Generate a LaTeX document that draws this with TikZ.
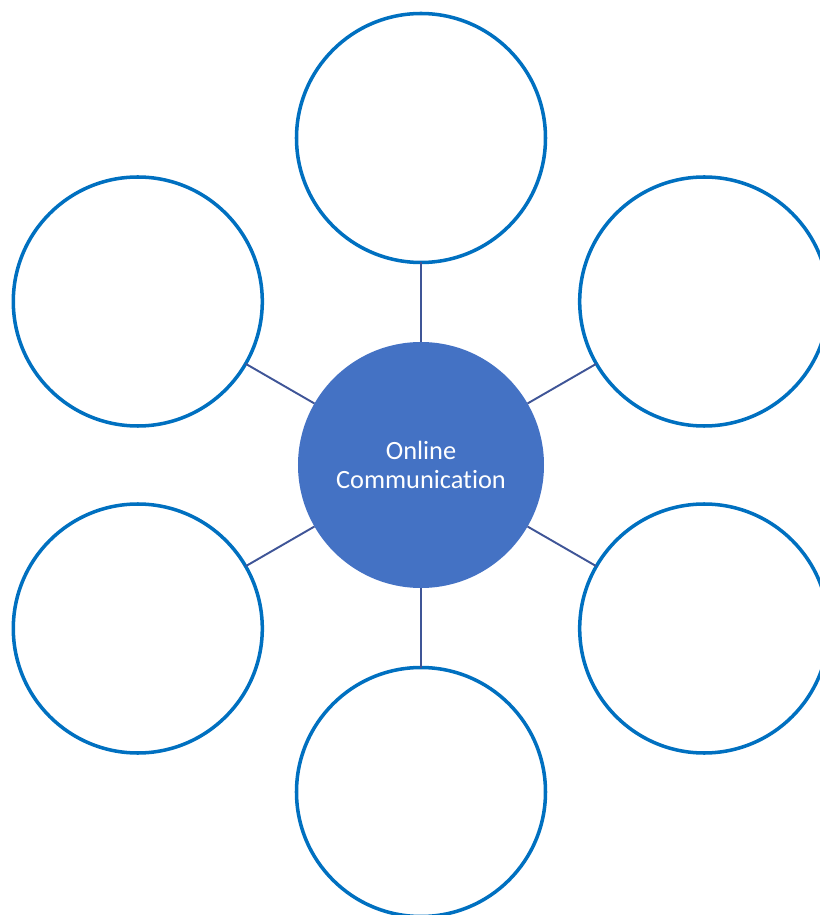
\documentclass[tikz,border=0pt]{standalone}
\usepackage{fontspec}
\setmainfont{Carlito}[Ligatures=NoCommon]
\usepackage{xcolor}
\usetikzlibrary{positioning}

\definecolor{ringblue}{HTML}{0070C0}
\definecolor{hubblue}{HTML}{4472C4}
\definecolor{linkblue}{HTML}{3F5597}

\tikzset{
    hub/.style={circle, fill=hubblue, draw=none, minimum size=4.92cm, inner sep=0pt, outer sep=0pt,
        text=white, align=center, font=\fontsize{15}{16.8}\selectfont},
    ring/.style={circle, draw=ringblue, line width=2pt, fill=white, minimum size=4.98cm, inner sep=0pt, outer sep=0pt},
    link/.style={draw=linkblue, line width=1.1pt}
}

\begin{document}
\begin{tikzpicture}
    % Rahmen
    \useasboundingbox (-8.42,-9.0) rectangle (7.98,9.3);

    % Mitte
    \node[hub] (hub) at (0,0) {Online\\Communication};

    % äußere Kreise
    \node[ring] (top) at (0,6.54) {};
    \node[ring] (topleft) at (-5.664,3.27) {};
    \node[ring] (topright) at (5.664,3.27) {};
    \node[ring] (botleft) at (-5.664,-3.27) {};
    \node[ring] (botright) at (5.664,-3.27) {};
    \node[ring] (bottom) at (0,-6.54) {};

    % Verbindungen
    \draw[link] (hub) -- (top);
    \draw[link] (hub) -- (topleft);
    \draw[link] (hub) -- (topright);
    \draw[link] (hub) -- (botleft);
    \draw[link] (hub) -- (botright);
    \draw[link] (hub) -- (bottom);
\end{tikzpicture}
\end{document}
